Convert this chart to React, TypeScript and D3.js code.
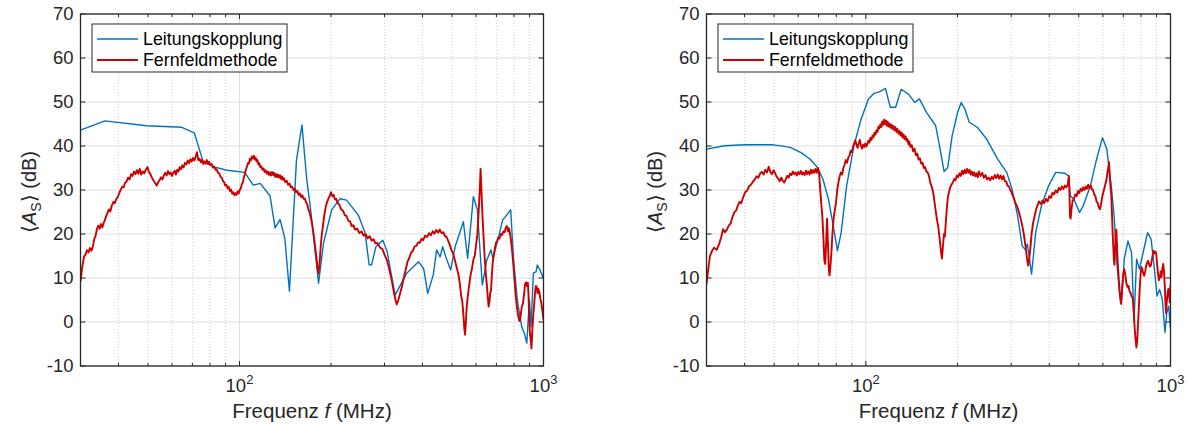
import * as d3 from "d3";

// Frequenz in MHz, Werte in dB
const leftCouplingF = [30, 36.1, 49.5, 64.6, 71, 76, 83, 91, 104, 111, 117, 126, 131, 136, 141, 146, 154, 160.5, 166.5, 171, 182, 189, 201, 214, 225, 246, 259, 267, 272, 281, 296, 306, 325, 355, 388, 403, 406, 416, 434, 445, 457, 466, 477, 495, 512, 545, 563, 588, 606, 629, 651, 672, 681, 710, 734, 757, 780, 796, 820, 848, 865, 881, 899, 910, 926, 945, 954, 974, 1000];
const leftCouplingDb = [43.6, 45.7, 44.6, 44.25, 43.0, 36.4, 35.2, 34.5, 34.0, 31.1, 31.5, 28.7, 21.4, 23.3, 19.0, 7.0, 36.8, 44.8, 32.3, 26.2, 8.8, 17.9, 25.5, 28.0, 27.7, 24.3, 20.2, 13.0, 13.0, 17.1, 18.6, 16.0, 6.1, 11.1, 13.7, 12.2, 11.1, 6.5, 10.7, 16.4, 14.8, 17.1, 14.8, 11.8, 17.1, 22.8, 14.5, 28.5, 25.5, 8.4, 14.1, 16.4, 14.5, 19.0, 23.2, 24.3, 25.5, 14.8, 5.0, -1.1, -2.6, -4.8, 5.0, -1.1, 11.1, 11.4, 12.95, 11.8, 9.9];

const leftFarF = [30, 30.4, 30.8, 31.2, 31.5, 31.9, 32.2, 32.6, 33, 33.3, 33.6, 34, 34.3, 34.7, 35, 35.4, 35.7, 36.1, 36.4, 36.8, 37.2, 37.6, 38, 38.5, 38.9, 39.3, 39.8, 40.3, 40.7, 41.1, 41.6, 42, 42.5, 43, 43.5, 44, 44.5, 45, 45.5, 46, 46.5, 47, 47.5, 48, 48.6, 49.2, 49.8, 50.4, 51, 51.6, 52.2, 52.8, 53.4, 54, 54.6, 55.2, 55.8, 56.4, 57, 57.6, 58.2, 58.8, 59.4, 60, 60.6, 61.2, 61.8, 62.4, 63, 63.6, 64.2, 64.8, 65.5, 66.2, 66.9, 67.6, 68.3, 69, 69.7, 70.4, 71.1, 71.8, 72.5, 73.2, 73.9, 74.6, 75.3, 76, 76.7, 77.4, 78.1, 78.8, 79.5, 80.2, 81, 81.8, 82.6, 83.4, 84.2, 85, 85.8, 86.6, 87.4, 88.2, 89, 89.8, 90.6, 91.4, 92.2, 93, 93.8, 94.6, 95.4, 96.2, 97, 97.8, 98.6, 99.4, 100.2, 101, 101.8, 102.6, 103.4, 104.2, 105, 105.8, 106.6, 107.4, 108.2, 109, 109.8, 110.6, 111.4, 112.2, 113, 113.8, 114.6, 115.4, 116.2, 117, 118, 119, 120, 121, 122, 123, 124, 125, 126, 127, 128, 129, 130, 131, 132, 133, 134, 135, 136, 137, 138, 139, 140, 141.5, 143, 144.5, 146, 147.5, 149, 150.5, 152, 153.5, 155, 156.5, 158, 159.5, 161, 162.5, 164, 165.5, 167, 168.5, 170, 171.5, 173, 175, 177, 179, 180.5, 182, 183.5, 185, 186.5, 188, 190, 192, 194, 196, 198, 200, 202, 204, 206, 208, 210, 213, 216, 219, 222, 225, 228, 231, 234, 237, 240, 244, 248, 252, 256, 260, 264, 268, 272, 276, 280, 285, 290, 295, 300, 305, 310, 316, 322, 326, 329, 333, 337, 342, 347, 352, 357, 362, 367, 372, 377, 382, 387, 392, 397, 402, 408, 414, 420, 426, 432, 438, 444, 450, 456, 462, 468, 474, 481, 490, 498, 505, 512, 519, 525, 530, 536, 541, 546, 549, 552, 555, 559, 564, 570, 576, 582, 588, 594, 600, 606, 612, 618, 621, 625, 630, 635, 640, 646, 651, 656, 660, 664, 668, 672, 676, 681, 686, 692, 698, 704, 710, 717, 724, 731, 738, 745, 752, 758, 764, 770, 776, 782, 789, 796, 803, 810, 817, 825, 833, 838, 843, 849, 855, 862, 870, 876, 882, 888, 893, 898, 903, 908, 913, 918, 925, 932, 938, 944, 950, 956, 962, 969, 976, 983, 990, 1000];
const leftFarDb = [9.2, 12.5, 14.8, 15.4, 16.3, 15.8, 16.8, 16.2, 17.4, 18.9, 19.5, 21.2, 21.9, 21.2, 22.3, 21.5, 22.4, 23.2, 24.0, 24.8, 25.6, 25.1, 26.4, 27.3, 27.0, 27.9, 28.4, 29.4, 30.1, 30.7, 30.6, 31.6, 31.9, 32.8, 32.4, 33.6, 33.2, 34.2, 33.6, 34.5, 33.7, 34.8, 33.5, 34.2, 33.8, 34.6, 35.2, 34.1, 33.5, 32.7, 32.1, 31.6, 31.0, 31.7, 32.2, 32.9, 32.4, 33.3, 33.9, 33.3, 34.3, 33.6, 34.0, 33.2, 33.9, 34.4, 33.5, 34.6, 34.2, 35.2, 34.7, 35.6, 35.1, 36.2, 35.8, 36.7, 36.1, 37.0, 36.5, 37.3, 36.7, 37.6, 38.6, 36.8, 37.1, 36.3, 36.9, 35.9, 36.5, 36.0, 36.8, 35.9, 36.4, 35.7, 35.9, 35.1, 35.3, 34.6, 34.7, 33.9, 33.8, 33.0, 32.8, 32.1, 31.8, 31.0, 31.2, 30.4, 30.7, 29.8, 30.1, 29.2, 29.5, 28.8, 29.3, 28.9, 29.7, 29.2, 30.0, 30.4, 31.3, 31.8, 32.9, 33.6, 34.6, 35.3, 36.1, 36.0, 37.1, 36.7, 37.6, 37.2, 37.8, 36.9, 37.4, 36.5, 36.8, 35.8, 36.1, 35.2, 35.4, 34.6, 34.9, 34.1, 34.5, 33.7, 34.2, 33.4, 34.0, 33.3, 34.1, 33.4, 33.9, 33.0, 33.6, 32.9, 33.5, 32.8, 33.3, 32.5, 33.1, 32.3, 32.7, 31.8, 32.1, 31.2, 31.5, 30.6, 30.8, 30.0, 30.3, 29.5, 29.8, 28.9, 29.2, 28.4, 28.8, 28.0, 28.1, 27.2, 26.8, 25.6, 25.0, 23.8, 22.6, 20.4, 17.6, 14.8, 12.5, 11.0, 13.5, 17.1, 19.8, 21.6, 24.2, 26.0, 27.2, 28.0, 28.6, 29.5, 28.6, 28.9, 27.9, 28.0, 27.1, 26.7, 25.6, 25.3, 24.3, 24.1, 23.0, 22.9, 21.8, 22.0, 21.0, 21.2, 20.2, 20.6, 19.6, 20.0, 19.0, 19.5, 18.5, 18.8, 17.9, 17.9, 16.9, 16.6, 15.3, 14.2, 12.4, 9.8, 6.8, 5.0, 4.0, 5.0, 6.3, 8.0, 10.0, 11.8, 13.7, 14.6, 15.8, 16.2, 17.2, 17.3, 18.1, 18.0, 18.9, 18.6, 19.6, 19.3, 20.2, 19.7, 20.6, 20.1, 20.9, 20.3, 21.0, 20.2, 20.4, 19.6, 19.2, 17.8, 16.4, 15.4, 13.8, 12.2, 10.8, 9.0, 6.0, 4.5, 1.0, -1.5, -2.9, -0.5, 3.5, 6.0, 8.5, 10.8, 12.2, 14.2, 15.0, 17.5, 19.8, 25.0, 31.0, 34.8, 30.0, 24.0, 19.5, 15.0, 11.0, 8.5, 5.5, 3.5, 4.5, 6.8, 7.0, 10.5, 13.6, 15.0, 16.8, 18.0, 18.4, 19.2, 19.0, 20.0, 19.8, 20.6, 20.4, 21.5, 21.8, 20.6, 21.3, 20.0, 18.5, 16.0, 13.0, 9.5, 6.0, 3.5, 1.4, 0.2, 0.6, 2.0, 3.6, 4.0, 6.0, 8.6, 9.0, 8.2, 8.9, 6.0, 0.0, -2.8, -4.0, -6.0, -2.5, 1.5, 4.0, 6.8, 8.2, 8.0, 6.5, 7.5, 6.8, 5.3, 4.5, 3.0, 0.5];

const rightCouplingF = [30, 34.4, 40, 49.2, 56.5, 61.3, 65.7, 69.4, 72.3, 75.4, 77.5, 80.7, 83, 86.5, 91.4, 96.5, 102, 106.3, 110.8, 116, 120.3, 125.3, 130.6, 138, 144.7, 149.9, 158.4, 169.6, 175.3, 180.7, 185.7, 192, 200, 205.7, 211.4, 218.5, 232.7, 249, 270.8, 290, 302, 315, 326, 333, 339, 350, 361, 377, 398, 420, 450, 463, 469, 482, 503, 517, 546, 572, 598, 618, 639, 653, 668, 680, 690, 705, 725, 745, 759, 774, 791, 813, 841, 864, 888, 903, 921, 940, 959, 972, 986, 1000];
const rightCouplingDb = [39.3, 40.05, 40.3, 40.3, 39.7, 38.5, 37.0, 35.1, 32.5, 27.9, 23.4, 16.2, 20.3, 30.95, 40.05, 46.1, 50.7, 51.95, 52.3, 53.1, 48.8, 48.8, 52.9, 51.8, 49.9, 50.7, 47.6, 44.6, 39.3, 34.2, 35.1, 42.3, 47.6, 49.9, 48.4, 45.4, 44.2, 41.6, 37.0, 34.0, 30.2, 24.1, 17.3, 16.5, 17.7, 10.9, 20.3, 26.4, 30.95, 34.0, 33.8, 33.2, 28.7, 27.9, 24.9, 26.4, 30.95, 37.0, 41.9, 39.3, 31.0, 24.1, 12.75, 6.7, 4.0, 14.3, 18.4, 15.8, 0.2, 14.3, 12.0, 15.8, 20.3, 18.8, 11.2, 5.9, 7.4, 5.1, -2.4, 2.1, 3.6, -1.3];

const rightFarF = [30, 30.4, 30.8, 31.3, 31.8, 32.4, 33, 33.5, 34, 34.5, 35, 35.5, 36, 36.5, 37, 37.5, 38, 38.5, 39, 39.6, 40.2, 40.8, 41.4, 42, 42.6, 43.2, 43.8, 44.4, 45, 45.6, 46.2, 46.8, 47.4, 48, 48.6, 49.2, 49.8, 50.4, 51, 51.6, 52.2, 52.8, 53.4, 54, 54.6, 55.2, 55.8, 56.4, 57, 57.6, 58.2, 58.8, 59.4, 60, 60.6, 61.2, 61.8, 62.4, 63, 63.6, 64.2, 64.8, 65.4, 66, 66.6, 67.2, 67.8, 68.4, 69, 69.6, 70.2, 70.8, 71.4, 72, 72.6, 73.1, 73.6, 74.1, 74.6, 75.1, 75.6, 76, 76.5, 77.1, 77.7, 78.4, 79.1, 79.8, 80.5, 81.2, 82, 82.8, 83.6, 84.4, 85.2, 86, 86.8, 87.6, 88.4, 89.2, 90, 90.8, 91.6, 92.4, 93.2, 94, 94.8, 95.6, 96.4, 97.2, 98, 98.8, 99.6, 100.4, 101.2, 102, 102.8, 103.6, 104.4, 105.2, 106, 106.8, 107.6, 108.4, 109.2, 110, 110.8, 111.6, 112.4, 113.2, 114, 114.8, 115.6, 116.4, 117.2, 118, 118.8, 119.6, 120.4, 121.2, 122, 123, 124, 125, 126, 127, 128, 129, 130, 131, 132, 133, 134, 135, 136, 137, 138, 139, 140, 141.5, 143, 144.5, 146, 147.5, 149, 150.5, 152, 153.5, 155, 156.5, 158, 159.5, 161, 163, 165, 167, 169, 171, 173, 175, 176.5, 177.8, 179, 180.5, 181.7, 183, 184.5, 186, 187.5, 189, 191, 193, 195, 197, 199, 201, 203, 205, 207, 209, 211, 213, 215, 217, 219, 221, 223, 225, 227, 229, 231, 233, 235, 238, 241, 244, 247, 250, 253, 256, 259, 262, 265, 268, 271, 274, 277, 280, 283, 286, 289, 292, 295, 298, 301, 304, 307, 310, 314, 318, 322, 326, 330, 334, 338, 341, 344, 347, 350, 354, 358, 362, 366, 370, 375, 380, 385, 390, 395, 400, 405, 410, 415, 420, 425, 430, 435, 440, 445, 450, 455, 460, 464, 466, 468, 470, 473, 477, 482, 487, 492, 497, 502, 507, 512, 517, 522, 527, 532, 537, 542, 547, 552, 557, 562, 567, 572, 577, 582, 587, 592, 597, 602, 607, 612, 617, 621, 625, 628, 631, 635, 639, 643, 646, 649, 652, 655, 658, 661, 664, 667, 670, 673, 677, 681, 685, 688, 692, 696, 700, 705, 710, 716, 722, 728, 734, 740, 746, 752, 758, 763, 768, 773, 778, 783, 788, 793, 798, 803, 808, 814, 820, 826, 832, 838, 844, 850, 856, 862, 868, 874, 880, 886, 892, 898, 904, 910, 916, 922, 928, 934, 940, 946, 952, 958, 963, 967, 972, 978, 984, 990, 995, 1000];
const rightFarDb = [8.6, 12.0, 15.0, 16.2, 16.9, 16.4, 17.7, 19.2, 21.1, 20.4, 21.0, 21.9, 22.4, 23.8, 24.9, 25.3, 26.4, 27.3, 27.0, 28.4, 29.5, 29.9, 30.9, 31.2, 31.9, 32.4, 33.1, 32.8, 33.8, 34.1, 33.5, 34.6, 34.0, 35.3, 34.1, 33.6, 34.5, 33.8, 33.0, 32.6, 32.0, 32.8, 32.1, 31.7, 32.4, 33.2, 32.8, 33.7, 33.4, 34.2, 33.6, 34.0, 33.3, 34.1, 33.6, 34.3, 33.5, 34.0, 33.4, 34.4, 33.6, 34.2, 33.5, 34.6, 33.8, 34.5, 33.9, 34.8, 33.9, 35.0, 34.0, 30.5, 27.0, 24.0, 19.0, 14.0, 13.2, 18.0, 23.5, 18.0, 12.0, 10.6, 12.5, 15.8, 20.0, 23.5, 25.5, 27.0, 29.8, 31.5, 33.0, 34.0, 33.5, 35.0, 35.8, 36.8, 36.2, 37.4, 37.8, 38.9, 38.6, 39.8, 40.6, 41.3, 40.2, 39.6, 40.6, 41.4, 40.0, 39.4, 40.3, 39.8, 40.6, 39.9, 40.4, 41.2, 40.8, 41.9, 41.4, 42.4, 42.0, 43.0, 42.6, 43.6, 43.2, 44.4, 44.0, 44.9, 44.3, 45.6, 44.8, 46.0, 45.0, 45.8, 44.6, 45.5, 44.4, 45.1, 44.2, 44.9, 43.9, 44.6, 43.6, 44.3, 43.2, 43.9, 42.8, 43.4, 42.4, 43.1, 41.9, 42.6, 41.6, 42.2, 41.2, 41.6, 40.4, 41.0, 39.8, 40.2, 38.8, 39.4, 37.9, 38.3, 36.9, 37.2, 36.0, 36.2, 35.0, 35.2, 34.2, 34.0, 33.3, 31.5, 30.5, 28.8, 26.0, 23.5, 21.5, 18.5, 16.0, 14.4, 17.0, 20.0, 19.4, 22.5, 26.0, 28.5, 29.5, 30.5, 31.2, 31.7, 32.5, 32.2, 33.3, 32.9, 33.8, 33.2, 34.4, 33.6, 34.6, 33.8, 34.8, 33.9, 34.6, 33.5, 34.2, 33.3, 34.0, 33.1, 33.8, 32.9, 34.2, 33.2, 33.9, 32.8, 33.4, 32.4, 32.8, 32.2, 33.0, 32.5, 33.4, 32.7, 33.5, 32.6, 33.3, 32.4, 33.2, 32.0, 31.9, 31.0, 30.8, 30.0, 29.4, 28.6, 27.9, 27.0, 26.2, 25.0, 23.6, 22.0, 20.0, 17.5, 14.5, 12.8, 14.5, 17.0, 20.0, 22.5, 24.0, 25.5, 26.5, 27.4, 26.8, 27.6, 27.0, 28.0, 27.4, 28.6, 28.2, 29.4, 29.0, 29.9, 29.4, 30.5, 30.0, 30.8, 30.2, 31.0, 30.6, 31.2, 33.2, 29.0, 24.0, 23.5, 25.5, 27.5, 28.0, 29.0, 28.6, 29.8, 29.3, 30.3, 29.8, 30.6, 30.0, 30.8, 30.3, 31.2, 30.4, 31.0, 30.2, 30.0, 29.0, 28.6, 27.4, 27.0, 26.0, 25.6, 26.8, 28.5, 29.5, 30.5, 31.5, 32.5, 34.0, 35.0, 36.4, 34.0, 31.0, 29.0, 24.0, 20.0, 17.0, 14.0, 13.0, 16.5, 20.5, 21.0, 18.0, 14.5, 12.0, 9.5, 7.0, 5.0, 4.2, 6.5, 9.0, 11.0, 12.0, 11.0, 9.0, 8.0, 8.2, 7.0, 6.5, 5.8, 5.5, 2.0, -1.5, -4.0, -5.8, -4.0, 0.0, 4.0, 8.0, 11.0, 12.5, 12.0, 11.0, 10.5, 11.5, 12.8, 13.5, 13.9, 13.2, 12.6, 12.8, 14.0, 15.2, 16.2, 15.6, 16.0, 15.5, 13.0, 11.0, 9.5, 10.0, 11.5, 10.2, 12.0, 13.2, 11.5, 8.0, 4.0, 2.0, 4.5, 6.5, 7.5, 6.0, 4.5, 8.5];

const yTicks = [-10, 0, 10, 20, 30, 40, 50, 60, 70];
const xMajor = [100, 1000];
const xMinor = [40, 50, 60, 70, 80, 90, 200, 300, 400, 500, 600, 700, 800, 900];
const legendLabels = ["Leitungskopplung", "Fernfeldmethode"];

const BLUE = "#0072BD";
const RED = "#CC0000";
const INK = "#262626";
const FONT = "'Liberation Sans', Arial, Helvetica, sans-serif";

const TOP = 14;
const BOTTOM = 366;

function Panel({ id, left, right, coupF, coupDb, farF, farDb }) {
  const x = d3.scaleLog().domain([30, 1000]).range([left, right]);
  const y = d3.scaleLinear().domain([-10, 70]).range([BOTTOM, TOP]);
  const line = d3
    .line<[number, number]>()
    .x((d) => x(d[0]))
    .y((d) => y(d[1]));
  const coup = coupF.map((f, i) => [f, coupDb[i]] as [number, number]);
  const far = farF.map((f, i) => [f, farDb[i]] as [number, number]);
  const cx = (left + right) / 2;
  const cy = (TOP + BOTTOM) / 2;
  const lx = left + 11.5;

  return (
    <g>
      <defs>
        <clipPath id={id}>
          <rect x={left} y={TOP} width={right - left} height={BOTTOM - TOP} />
        </clipPath>
      </defs>
      <rect x={left} y={TOP} width={right - left} height={BOTTOM - TOP} fill="#fff" />
      {/* grid */}
      {yTicks.map((t) => (
        <line key={"gy" + t} x1={left} x2={right} y1={y(t)} y2={y(t)} stroke="#dedede" strokeWidth={1} />
      ))}
      {xMinor.map((t) => (
        <line key={"gm" + t} x1={x(t)} x2={x(t)} y1={TOP} y2={BOTTOM} stroke="#c4c4c4" strokeWidth={0.8} strokeDasharray="1,2" />
      ))}
      {xMajor.map((t) => (
        <line key={"gx" + t} x1={x(t)} x2={x(t)} y1={TOP} y2={BOTTOM} stroke="#dedede" strokeWidth={1} />
      ))}
      {/* data */}
      <g clipPath={`url(#${id})`} fill="none" strokeLinejoin="round">
        <path d={line(coup) || ""} stroke={BLUE} strokeWidth={1.4} />
        <path d={line(far) || ""} stroke={RED} strokeWidth={1.9} />
      </g>
      {/* ticks */}
      {yTicks.map((t) => (
        <g key={"ty" + t}>
          <line x1={left} x2={left + 5} y1={y(t)} y2={y(t)} stroke={INK} />
          <line x1={right - 5} x2={right} y1={y(t)} y2={y(t)} stroke={INK} />
          <text x={left - 7} y={y(t)} dy="0.35em" textAnchor="end" fontSize={18.5} fill={INK} fontFamily={FONT}>
            {t}
          </text>
        </g>
      ))}
      {xMinor.map((t) => (
        <g key={"tm" + t}>
          <line x1={x(t)} x2={x(t)} y1={BOTTOM} y2={BOTTOM - 3} stroke={INK} />
          <line x1={x(t)} x2={x(t)} y1={TOP} y2={TOP + 3} stroke={INK} />
        </g>
      ))}
      {xMajor.map((t) => (
        <g key={"tx" + t}>
          <line x1={x(t)} x2={x(t)} y1={BOTTOM} y2={BOTTOM - 5} stroke={INK} />
          <line x1={x(t)} x2={x(t)} y1={TOP} y2={TOP + 5} stroke={INK} />
          <text x={x(t)} y={BOTTOM + 26} textAnchor="middle" fontSize={18.5} fill={INK} fontFamily={FONT}>
            10
            <tspan dy={-8} fontSize={13}>
              {Math.round(Math.log10(t))}
            </tspan>
          </text>
        </g>
      ))}
      <rect x={left} y={TOP} width={right - left} height={BOTTOM - TOP} fill="none" stroke={INK} strokeWidth={1.3} />
      {/* axis labels */}
      <text x={cx} y={418} textAnchor="middle" fontSize={20.5} fill={INK} fontFamily={FONT}>
        Frequenz <tspan fontStyle="italic">f</tspan> (MHz)
      </text>
      <text transform={`translate(${left - 45},${cy + 2}) rotate(-90)`} textAnchor="middle" fontSize={20} fill={INK} fontFamily={FONT}>
        {"\u27E8"}
        <tspan fontStyle="italic">A</tspan>
        <tspan fontSize={14} dy={5}>S</tspan>
        <tspan dy={-5}>{"\u27E9 (dB)"}</tspan>
      </text>
      {/* legend */}
      <rect x={lx} y={24} width={195} height={48} fill="#fff" stroke={INK} strokeWidth={1} />
      {legendLabels.map((lab, i) => (
        <g key={lab}>
          <line x1={lx + 5} x2={lx + 46} y1={39 + i * 21} y2={39 + i * 21} stroke={i === 0 ? BLUE : RED} strokeWidth={i === 0 ? 1.4 : 2} />
          <text x={lx + 51} y={39 + i * 21} dy="0.35em" fontSize={17.8} fill="#000" fontFamily={FONT}>
            {lab}
          </text>
        </g>
      ))}
    </g>
  );
}

export default function App() {
  return (
    <svg width={1190} height={433} style={{ position: "absolute", left: 0, top: 0, background: "#fff" }}>
      <rect width={1190} height={433} fill="#fff" />
      <Panel id="clipL" left={80.5} right={543.5} coupF={leftCouplingF} coupDb={leftCouplingDb} farF={leftFarF} farDb={leftFarDb} />
      <Panel id="clipR" left={706.5} right={1170.5} coupF={rightCouplingF} coupDb={rightCouplingDb} farF={rightFarF} farDb={rightFarDb} />
    </svg>
  );
}
